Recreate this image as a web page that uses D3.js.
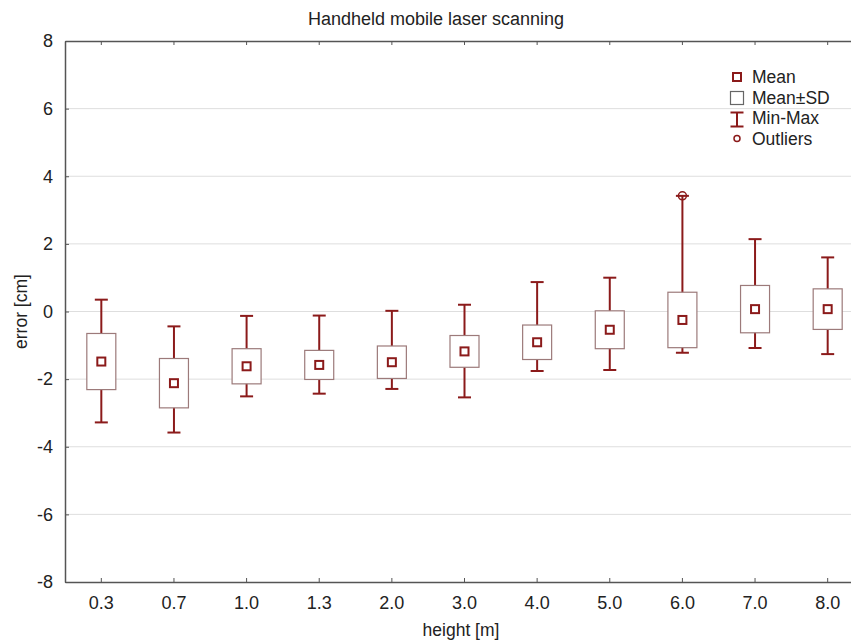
<!DOCTYPE html>
<html>
<head>
<meta charset="utf-8">
<script src="https://cdn.jsdelivr.net/npm/d3@7"></script>
<style>
  body { margin: 0; background: #fff; }
  text { font-family: Arial, "Liberation Sans", sans-serif; fill: #222; }
</style>
</head>
<body>
<svg id="chart" width="851" height="644"></svg>
<script>
// data
const categories = ["0.3", "0.7", "1.0", "1.3", "2.0", "3.0", "4.0", "5.0", "6.0", "7.0", "8.0"];
const means = [-1.48, -2.12, -1.62, -1.58, -1.50, -1.18, -0.91, -0.54, -0.25, 0.07, 0.07];
const sds = [0.83, 0.73, 0.52, 0.43, 0.48, 0.47, 0.51, 0.56, 0.82, 0.70, 0.60];
const mins = [-3.28, -3.58, -2.51, -2.43, -2.29, -2.54, -1.76, -1.73, -1.22, -1.08, -1.26];
const maxs = [0.35, -0.44, -0.13, -0.12, 0.02, 0.20, 0.87, 1.00, 3.42, 2.14, 1.60];
const outliers = [{ cat: "6.0", value: 3.42 }];
const yTicks = [-8, -6, -4, -2, 0, 2, 4, 6, 8];
const legendItems = ["Mean", "Mean±SD", "Min-Max", "Outliers"];

const red = "#8b1a1a";
const boxStroke = "#9c7a7a";

const margin = { top: 41, left: 65, bottom: 62 };
const width = 851, height = 644;
const plotRight = 864; // plot runs past the right edge of the picture

const svg = d3.select("#chart");

const x = d3.scaleBand()
    .domain(categories)
    .range([margin.left, plotRight]);
const y = d3.scaleLinear()
    .domain([-8, 8])
    .range([height - margin.bottom, margin.top]);

const rows = categories.map((c, i) => ({
    cat: c, mean: means[i], lo: means[i] - sds[i], hi: means[i] + sds[i], min: mins[i], max: maxs[i]
}));

// grid
svg.append("g")
    .selectAll("line")
    .data(yTicks.filter(d => d > -8 && d < 8))
    .join("line")
    .attr("x1", margin.left).attr("x2", plotRight)
    .attr("y1", d => y(d)).attr("y2", d => y(d))
    .attr("stroke", "#dedede").attr("stroke-width", 1);

// axes
const yAxis = svg.append("g")
    .attr("transform", `translate(${margin.left},0)`)
    .call(d3.axisLeft(y).tickValues(yTicks).tickFormat(d => String(d)).tickSizeInner(-4).tickSizeOuter(0).tickPadding(12));
const xAxis = svg.append("g")
    .attr("transform", `translate(0,${y(-8)})`)
    .call(d3.axisBottom(x).tickSizeInner(-4).tickSizeOuter(0).tickPadding(14));
const xTop = svg.append("g")
    .attr("transform", `translate(0,${y(8)})`)
    .call(d3.axisTop(x).tickSizeInner(-4).tickSizeOuter(0).tickFormat(""));

[yAxis, xAxis, xTop].forEach(g => {
    g.select(".domain").attr("stroke", "#555").attr("stroke-width", 1.5);
    g.selectAll(".tick line").attr("stroke", "#555");
    g.selectAll(".tick text").attr("font-size", 18).attr("fill", "#222")
        .attr("font-family", "Arial, 'Liberation Sans', sans-serif");
});

// whiskers
const cx = d => x(d.cat) + x.bandwidth() / 2;
const boxes = svg.append("g").selectAll("g").data(rows).join("g");

boxes.append("line")
    .attr("x1", cx).attr("x2", cx)
    .attr("y1", d => y(d.min)).attr("y2", d => y(d.max))
    .attr("stroke", red).attr("stroke-width", 2);
boxes.selectAll(".cap")
    .data(d => [{ c: cx(d), v: d.min }, { c: cx(d), v: d.max }])
    .join("line")
    .attr("class", "cap")
    .attr("x1", d => d.c - 6.5).attr("x2", d => d.c + 6.5)
    .attr("y1", d => y(d.v)).attr("y2", d => y(d.v))
    .attr("stroke", red).attr("stroke-width", 2);

// mean +- sd
boxes.append("rect")
    .attr("x", d => cx(d) - 14.5).attr("width", 29)
    .attr("y", d => y(d.hi)).attr("height", d => y(d.lo) - y(d.hi))
    .attr("fill", "#fff").attr("stroke", boxStroke).attr("stroke-width", 1.2);

// mean
boxes.append("rect")
    .attr("x", d => cx(d) - 4).attr("y", d => y(d.mean) - 4)
    .attr("width", 8).attr("height", 8)
    .attr("fill", "#fff").attr("stroke", red).attr("stroke-width", 2);

// outliers
svg.append("g").selectAll("circle")
    .data(outliers)
    .join("circle")
    .attr("cx", d => x(d.cat) + x.bandwidth() / 2)
    .attr("cy", d => y(d.value))
    .attr("r", 4)
    .attr("fill", "none").attr("stroke", red).attr("stroke-width", 1.5);

// legend
const legend = svg.append("g").attr("transform", "translate(737,77)");
const li = legend.selectAll("g").data(legendItems).join("g")
    .attr("transform", (d, i) => `translate(0,${i * 20.5})`);
li.append("text")
    .attr("x", 15).attr("y", 6)
    .attr("font-size", 17.5)
    .text(d => d);
legend.append("rect").attr("x", -4).attr("y", -4).attr("width", 8).attr("height", 8)
    .attr("fill", "#fff").attr("stroke", red).attr("stroke-width", 2);
legend.append("rect").attr("x", -6.5).attr("y", 14.5).attr("width", 13).attr("height", 13)
    .attr("fill", "#fff").attr("stroke", "#666").attr("stroke-width", 1.2);
legend.append("line").attr("x1", -6.5).attr("x2", 6.5).attr("y1", 35.5).attr("y2", 35.5)
    .attr("stroke", red).attr("stroke-width", 2);
legend.append("line").attr("x1", 0).attr("x2", 0).attr("y1", 35.5).attr("y2", 50)
    .attr("stroke", red).attr("stroke-width", 2);
legend.append("line").attr("x1", -6.5).attr("x2", 6.5).attr("y1", 49.5).attr("y2", 49.5)
    .attr("stroke", red).attr("stroke-width", 2);
legend.append("circle").attr("cx", 0).attr("cy", 61.5).attr("r", 3)
    .attr("fill", "none").attr("stroke", red).attr("stroke-width", 1.5);

// titles
svg.append("text")
    .attr("x", 436).attr("y", 25)
    .attr("text-anchor", "middle").attr("font-size", 18)
    .text("Handheld mobile laser scanning");
svg.append("text")
    .attr("x", 461).attr("y", 636)
    .attr("text-anchor", "middle").attr("font-size", 17.5)
    .text("height [m]");
svg.append("text")
    .attr("transform", `translate(27,${y(0)}) rotate(-90)`)
    .attr("text-anchor", "middle").attr("font-size", 17.5)
    .text("error [cm]");
</script>
</body>
</html>
